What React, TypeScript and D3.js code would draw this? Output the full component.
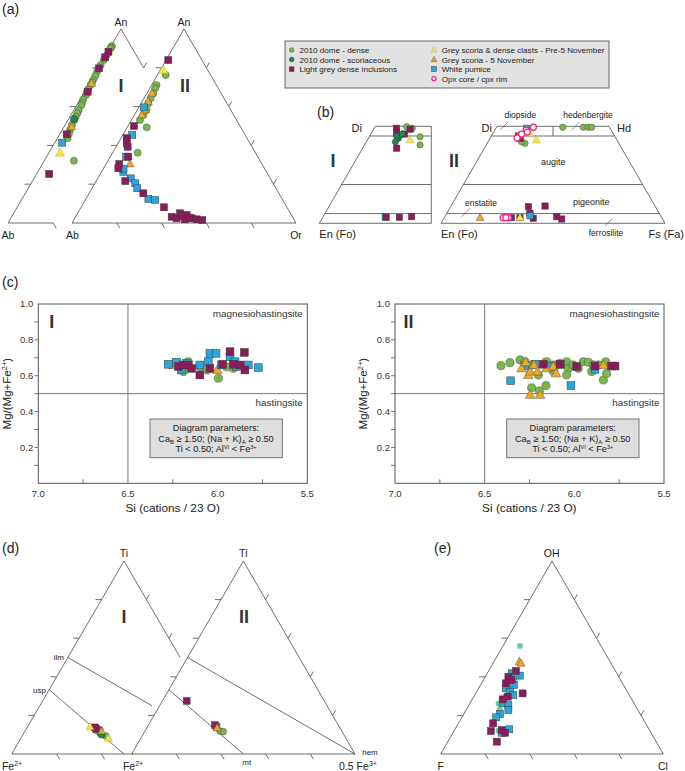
import React from 'react';
import * as d3 from 'd3';

const FONT = "'Liberation Sans', Arial, Helvetica, sans-serif";

// ---------- (a) feldspar, [An, Or] fractions ----------
const aI_dense = [[.912,.004],[.905,.003],[.9,.003],[.866,.005],[.852,.004],[.84,.004],[.814,.003],[.795,.004],[.78,.004],[.758,.007],[.737,.008],[.725,.01],[.711,.01],[.689,.01],[.675,.012],[.66,.015],[.637,.014],[.62,.018],[.608,.02],[.582,.022],[.565,.024],[.548,.026],[.53,.028],[.505,.03],[.479,.035],[.46,.04],[.437,.045],[.321,.131]];
const aI_scor = [[.536,.024]];
const aI_pre5 = [[.362,.049]];
const aI_nov5 = [[.72,.01],[.496,.034]];
const aI_pumice = [[.414,.033]];
const aI_incl = [[.883,.003],[.854,.003],[.797,.004],[.677,.014],[.457,.031],[.253,.056]];

const aII_dense = [[.763,.037],[.711,.022],[.694,.024],[.669,.029],[.643,.03],[.617,.032],[.582,.042],[.557,.04],[.531,.038],[.493,.087],[.362,.112]];
const aII_pre5 = [[.789,.013]];
const aII_nov5 = [[.669,.022],[.625,.028],[.582,.035],[.557,.033],[.304,.107]];
const aII_pumice = [[.596,.023],[.454,.042],[.342,.07],[.264,.097],[.23,.147],[.205,.179],[.179,.202],[.124,.279],[.119,.312],[.28,.09]];
const aII_incl = [[.84,.01],[.5,.027],[.437,.026],[.41,.04],[.393,.052],[.342,.08],[.304,.059],[.282,.066],[.216,.13],[.153,.242],[.081,.37],[.032,.429],[.05,.457],[.041,.491],[.024,.522],[.019,.547],[.015,.574],[.019,.494],[.024,.455],[.035,.475],[.028,.51]];

// ---------- (b) pyroxene, [Wo, Fs] fractions ----------
const bI_incl = [[.49,.10],[.485,.163],[.387,.152],[.47,.11],[.46,.15],[.031,.283],[.031,.342],[.034,.395]];
const bI_dense = [[.498,.141],[.446,.227],[.404,.248],[.49,.17]];
const bI_scor = [[.438,.134],[.45,.12],[.42,.13],[.46,.14]];
const bI_pre5 = [[.43,.19]];
const bI_pumice = [[.033,.278]];

const bII_dense = [[.412,.169],[.42,.15],[.495,.296],[.495,.388],[.495,.41],[.495,.425]];
const bII_incl = [[.438,.134],[.45,.12],[.029,.30],[.029,.338],[.086,.347],[.052,.371],[.026,.399],[.089,.42],[.034,.50],[.022,.528]];
const bII_pumice = [[.49,.138],[.039,.378]];
const bII_pre5 = [[.464,.165],[.429,.212],[.029,.338]];
const bII_nov5 = [[.029,.16]];
const bII_opx = [[.455,.126],[.495,.165],[.48,.14],[.44,.12],[.46,.13],[.47,.15],[.029,.263],[.029,.286],[.029,.275]];

// ---------- (c) amphibole, [Si, Mg#] ----------
const cL_pumice = [[6.275,.664],[6.229,.675],[6.173,.669],[6.201,.632],[6.099,.66],[6.043,.725],[6.009,.725],[6.052,.678],[5.978,.66],[5.931,.706],[5.903,.678],[5.894,.651],[5.829,.66],[5.773,.645]];
const cL_incl = [[6.219,.651],[6.164,.66],[6.145,.641],[6.099,.604],[6.043,.641],[5.972,.664],[5.931,.734],[5.913,.664],[5.875,.66],[5.851,.73],[5.848,.632],[6.191,.66]];
const cL_dense = [[6.191,.623],[6.099,.651],[5.996,.586],[6.06,.632],[5.913,.641],[6.164,.678],[5.95,.65]];
const cL_nov5 = [[6.251,.66],[6.002,.632]];

const cR_dense = [[6.409,.656],[6.359,.673],[6.303,.688],[6.275,.678],[6.238,.66],[6.238,.533],[6.195,.515],[6.158,.545],[6.201,.604],[6.154,.678],[6.117,.66],[6.08,.669],[6.043,.678],[6.033,.641],[6.006,.66],[5.978,.641],[5.95,.678],[5.922,.675],[5.894,.66],[5.866,.66],[5.838,.576],[5.825,.678],[5.82,.613],[6.043,.604],[6.117,.623],[5.903,.623]];
const cR_nov5 = [[6.294,.641],[6.271,.675],[6.257,.604],[6.247,.623],[6.225,.66],[6.206,.623],[6.173,.669],[6.154,.641],[6.117,.651],[6.102,.613],[6.247,.493],[6.191,.493],[5.838,.66]];
const cR_pumice = [[6.355,.572],[6.275,.656],[6.219,.664],[6.078,.664],[6.019,.545],[5.885,.636],[6.136,.651]];
const cR_incl = [[6.173,.664],[6.08,.664],[5.987,.651],[5.885,.654],[5.792,.654],[5.773,.654]];

const cXTicks = [7.0, 6.5, 6.0, 5.5];
const cXMinor = [6.75, 6.25, 5.75];
const cYTicks = [0.2, 0.4, 0.6, 0.8, 1.0];
const cYMinor = [0.1, 0.2, 0.3, 0.4, 0.5, 0.6, 0.7, 0.8, 0.9];

// ---------- (d) Fe-Ti oxides, [Ti, Fe3+] ----------
const dI_incl = [[.138,.302],[.13,.31]];
const dI_dense = [[.109,.339],[.093,.373],[.12,.32]];
const dI_scor = [[.1,.35],[.125,.33]];
const dI_pre5 = [[.141,.278],[.081,.39]];
const dI_nov5 = [[.119,.341]];
const dII_dense = [[.119,.336],[.116,.352]];
const dII_pumice = [[.14,.31]];
const dII_incl = [[.275,.109],[.15,.298]];
const dII_nov5 = [[.135,.315]];

// ---------- (e) apatite, [OH, Cl] ----------
const e_light = [[.56,.076],[.3,.14],[.26,.13],[.23,.15],[.12,.2],[.33,.15],[.38,.14]];
const e_nov5 = [[.478,.114],[.47,.126]];
const e_pumice = [[.406,.153],[.418,.11],[.358,.15],[.34,.122],[.323,.15],[.306,.173],[.263,.147],[.254,.177],[.228,.19],[.207,.163],[.19,.154],[.128,.244],[.11,.219]];
const e_incl = [[.43,.123],[.4,.104],[.383,.127],[.366,.11],[.314,.211],[.297,.153],[.283,.137],[.159,.156],[.119,.166],[.124,.212],[.11,.234],[.064,.22]];

const legendLeft = [
  ['dense', '2010 dome - dense'],
  ['scor', '2010 dome - scoriaceous'],
  ['incl', 'Light grey dense inclusions'],
];
const legendRight = [
  ['pre5', 'Grey scoria & dense clasts - Pre-5 November'],
  ['nov5', 'Grey scoria - 5 November'],
  ['pumice', 'White pumice'],
  ['opx', 'Opx core / cpx rim'],
];

const STY: any = {
  dense: { shape: 'circle', fill: '#7ab84b', stroke: '#4a4a4a', sw: 0.5 },
  scor: { shape: 'circle', fill: '#1c8a4b', stroke: '#2a2a2a', sw: 0.5 },
  incl: { shape: 'square', fill: '#8c1b5c', stroke: '#3a3a3a', sw: 0.5 },
  pre5: { shape: 'tri', fill: '#f4e83a', stroke: '#9a9a60', sw: 0.4 },
  nov5: { shape: 'tri', fill: '#f5a81e', stroke: '#555', sw: 0.5 },
  pumice: { shape: 'square', fill: '#2ba6dd', stroke: '#3a3a3a', sw: 0.5 },
  opx: { shape: 'circle', fill: '#ffffff', stroke: '#ec2a84', sw: 1.3 },
  light: { shape: 'circle', fill: '#6fcb9b', stroke: 'none', sw: 0 },
};

function Mk({ t, x, y, s }: any) {
  const st = STY[t];
  if (st.shape === 'circle')
    return <circle cx={x} cy={y} r={s / 2} fill={st.fill} stroke={st.stroke} strokeWidth={st.sw} />;
  if (st.shape === 'square')
    return <rect x={x - s / 2} y={y - s / 2} width={s} height={s} fill={st.fill} stroke={st.stroke} strokeWidth={st.sw} />;
  const h = s * 1.05;
  return (
    <path
      d={`M${x},${y - h * 0.6}L${x + s * 0.58},${y + h * 0.4}L${x - s * 0.58},${y + h * 0.4}Z`}
      fill={st.fill}
      stroke={st.stroke}
      strokeWidth={st.sw}
    />
  );
}

function Series({ data, t, proj, s }: any) {
  return (
    <g>
      {data.map((d: number[], i: number) => {
        const [x, y] = proj(d[0], d[1]);
        return <Mk key={i} t={t} x={x} y={y} s={s} />;
      })}
    </g>
  );
}

// ternary projection: top fraction, right-vertex fraction
function tern(apex: number[], left: number[], right: number[]) {
  const sx = d3.scaleLinear().domain([0, 1]).range([left[0], right[0]]);
  const sy = d3.scaleLinear().domain([0, 1]).range([left[1], apex[1]]);
  return (top: number, r: number) => [sx(r + top / 2), sy(top)];
}

const LINE = '#4a4a4a';
const TICK = 6;

function Seg({ a, b, w = 0.8, c = LINE }: any) {
  return <line x1={a[0]} y1={a[1]} x2={b[0]} y2={b[1]} stroke={c} strokeWidth={w} />;
}

function Ticks({ T, left = [], right = [], base = [] }: any) {
  const out: any[] = [];
  left.forEach((t: number, i: number) => {
    const p = T(t, 0);
    out.push(<Seg key={'l' + i} a={p} b={[p[0] - TICK, p[1]]} />);
  });
  right.forEach((t: number, i: number) => {
    const p = T(t, 1 - t);
    out.push(<Seg key={'r' + i} a={p} b={[p[0] + TICK * 0.5, p[1] - TICK * 0.866]} />);
  });
  base.forEach((r: number, i: number) => {
    const p = T(0, r);
    out.push(<Seg key={'b' + i} a={p} b={[p[0] + TICK * 0.5, p[1] + TICK * 0.866]} />);
  });
  return <g>{out}</g>;
}

const F4 = [0.2, 0.4, 0.6, 0.8];

function Txt({ x, y, s = 10, a = 'middle', w = 'normal', children, fill = '#222' }: any) {
  return (
    <text x={x} y={y} fontSize={s} textAnchor={a} fontWeight={w} fontFamily={FONT} fill={fill}>
      {children}
    </text>
  );
}

function PanelA() {
  const TI = tern([121, 29], [8, 223], [234, 223]);
  const TII = tern([184, 29], [72, 223], [296, 223]);
  const pI = (an: number, or: number) => TI(an, or);
  const pII = (an: number, or: number) => TII(an, or);
  const S = 7;
  return (
    <g>
      <Txt x={2} y={14} s={14} a="start">(a)</Txt>
      <Seg a={TI(1, 0)} b={TI(0, 0)} />
      <Seg a={TI(1, 0)} b={TI(0.8, 0.2)} />
      <Seg a={TI(0, 0)} b={TI(0, 0.2)} />
      <Ticks T={TI} left={F4} right={[0.8]} base={[0.2]} />
      <Seg a={TII(1, 0)} b={TII(0, 0)} />
      <Seg a={TII(1, 0)} b={TII(0, 1)} />
      <Seg a={TII(0, 0)} b={TII(0, 1)} />
      <Ticks T={TII} left={F4} right={F4} base={F4} />
      <Txt x={121} y={26} s={10.5}>An</Txt>
      <Txt x={184} y={26} s={10.5}>An</Txt>
      <Txt x={8} y={239} s={10.5}>Ab</Txt>
      <Txt x={72.5} y={239} s={10.5}>Ab</Txt>
      <Txt x={296} y={239} s={10.5}>Or</Txt>
      <Txt x={121} y={92} s={18} w="bold" fill="#333">I</Txt>
      <Txt x={185} y={92} s={18} w="bold" fill="#333">II</Txt>
      <Series data={aI_dense} t="dense" proj={pI} s={S} />
      <Series data={aI_scor} t="scor" proj={pI} s={S} />
      <Series data={aI_pre5} t="pre5" proj={pI} s={S + 1} />
      <Series data={aI_nov5} t="nov5" proj={pI} s={S} />
      <Series data={aI_pumice} t="pumice" proj={pI} s={S} />
      <Series data={aI_incl} t="incl" proj={pI} s={S} />
      <Series data={aII_dense} t="dense" proj={pII} s={S} />
      <Series data={aII_pre5} t="pre5" proj={pII} s={S + 1} />
      <Series data={aII_nov5} t="nov5" proj={pII} s={S} />
      <Series data={aII_pumice} t="pumice" proj={pII} s={S} />
      <Series data={aII_incl} t="incl" proj={pII} s={S} />
    </g>
  );
}

function Legend() {
  const x0 = 285, y0 = 41, w = 324, h = 47;
  const rowY = d3.scaleLinear().domain([0, 3]).range([50, 78.7]);
  return (
    <g>
      <rect x={x0} y={y0} width={w} height={h} fill="#e2e2e2" stroke="#666" strokeWidth={1} />
      {legendLeft.map(([t, l], i) => (
        <g key={'L' + i}>
          <Mk t={t} x={291.7} y={rowY(i)} s={4.6} />
          <Txt x={299.5} y={rowY(i) + 3} s={8.1} a="start">{l}</Txt>
        </g>
      ))}
      {legendRight.map(([t, l], i) => (
        <g key={'R' + i}>
          <Mk t={t} x={434} y={rowY(i)} s={t === 'opx' ? 4.2 : 4.8} />
          <Txt x={441.7} y={rowY(i) + 3} s={8.1} a="start">{l}</Txt>
        </g>
      ))}
    </g>
  );
}

function PanelB() {
  const TI = tern([431.3, 29.3], [319.3, 223.3], [543.3, 223.3]);
  const TII = tern([553, 29.3], [441, 223.3], [665, 223.3]);
  const S = 6.3;
  const poly = (pts: number[][]) => pts.map((p) => p.join(',')).join(' ');
  const lines = [0.45, 0.2, 0.05];
  return (
    <g>
      <Txt x={317} y={117} s={14} a="start">(b)</Txt>
      <polygon points={poly([TI(0, 0), TI(0, 0.5), TI(0.5, 0.25), TI(0.5, 0)])} fill="none" stroke={LINE} strokeWidth={0.8} />
      {lines.map((w, i) => (
        <Seg key={i} a={TI(w, 0)} b={TI(w, 0.5 - w / 2)} />
      ))}
      <polygon points={poly([TII(0, 0), TII(0, 1), TII(0.5, 0.5), TII(0.5, 0)])} fill="none" stroke={LINE} strokeWidth={0.8} />
      {lines.map((w, i) => (
        <Seg key={i} a={TII(w, 0)} b={TII(w, 1 - w)} />
      ))}
      <Seg a={TII(0.5, 0.25)} b={TII(0.45, 0.275)} />
      {/* leaders */}
      <Seg a={TII(0.522, 0.038)} b={TII(0.481, 0.023)} w={0.6} />
      <Seg a={TII(0.52, 0.357)} b={TII(0.481, 0.343)} w={0.6} />
      <Seg a={TII(0.077, 0.09)} b={TII(0.034, 0.075)} w={0.6} />
      <Seg a={TII(0.02, 0.752)} b={TII(-0.014, 0.738)} w={0.6} />
      <Txt x={362} y={131.5} s={11} a="end">Di</Txt>
      <Txt x={492} y={131.5} s={11} a="end">Di</Txt>
      <Txt x={617} y={131.5} s={11} a="start">Hd</Txt>
      <Txt x={319.3} y={237.5} s={11} a="start">En (Fo)</Txt>
      <Txt x={441} y={237.5} s={11} a="start">En (Fo)</Txt>
      <Txt x={684} y={237.5} s={11} a="end">Fs (Fa)</Txt>
      <Txt x={333} y={167} s={18} w="bold" fill="#333">I</Txt>
      <Txt x={454} y={167} s={18} w="bold" fill="#333">II</Txt>
      <Txt x={520.3} y={118} s={8.5}>diopside</Txt>
      <Txt x={588} y={118} s={8.5}>hedenbergite</Txt>
      <Txt x={553.3} y={164.5} s={9}>augite</Txt>
      <Txt x={591.3} y={204.5} s={9}>pigeonite</Txt>
      <Txt x={481} y={205.5} s={8.5}>enstatite</Txt>
      <Txt x={606} y={236} s={8.5}>ferrosilite</Txt>
      <Series data={bI_dense} t="dense" proj={TI} s={S} />
      <Series data={bI_pumice} t="pumice" proj={TI} s={S} />
      <Series data={bI_incl} t="incl" proj={TI} s={S} />
      <Series data={bI_scor} t="scor" proj={TI} s={S} />
      <Series data={bI_pre5} t="pre5" proj={TI} s={S + 0.5} />
      <Series data={bII_dense} t="dense" proj={TII} s={S} />
      <Series data={bII_incl} t="incl" proj={TII} s={S} />
      <Series data={bII_pumice} t="pumice" proj={TII} s={S} />
      <Series data={bII_pre5} t="pre5" proj={TII} s={S + 0.5} />
      <Series data={bII_nov5} t="nov5" proj={TII} s={S + 0.5} />
      <Series data={bII_opx} t="opx" proj={TII} s={6} />
    </g>
  );
}

function AmphPlot({ x0, x1, label, series }: any) {
  const x = d3.scaleLinear().domain([7.0, 5.5]).range([x0, x1]);
  const y = d3.scaleLinear().domain([0, 1]).range([483.3, 304]);
  const proj = (a: number, b: number) => [x(a), y(b)];
  const bx = x0 + 111.7;
  return (
    <g>
      <rect x={x0} y={y(1)} width={x1 - x0} height={y(0) - y(1)} fill="none" stroke="#555" strokeWidth={1} />
      <Seg a={[x(6.5), y(0)]} b={[x(6.5), y(1)]} c="#777" w={1} />
      <Seg a={[x0, y(0.5)]} b={[x1, y(0.5)]} c="#777" w={1} />
      {cYMinor.map((v, i) => (
        <Seg key={'ym' + i} a={[x0 - 4, y(v)]} b={[x0, y(v)]} c="#555" />
      ))}
      {cYTicks.map((v, i) => (
        <Txt key={'yt' + i} x={x0 - 5} y={y(v) + 3.3} s={9.5} a="end" fill="#333">{v.toFixed(1)}</Txt>
      ))}
      {cXMinor.map((v, i) => (
        <Seg key={'xm' + i} a={[x(v), y(0)]} b={[x(v), y(0) - 4]} c="#555" />
      ))}
      {cXTicks.map((v, i) => (
        <Txt key={'xt' + i} x={x(v)} y={496.5} s={9.5} fill="#333">{v.toFixed(1)}</Txt>
      ))}
      <text x={x0 - 27.5} y={y(0.5)} fontSize={11.5} fontFamily={FONT} textAnchor="middle" fill="#222"
        transform={`rotate(-90 ${x0 - 27.5} ${y(0.5)})`}>
        Mg/(Mg+Fe<tspan dy={-4} fontSize={7.5}>2+</tspan><tspan dy={4}>)</tspan>
      </text>
      <Txt x={x(6.0) - 45} y={512} s={11.8}>Si (cations / 23 O)</Txt>
      <Txt x={x0 + 13.4} y={327.5} s={18} w="bold" fill="#333">{label}</Txt>
      <Txt x={x1 - 4.5} y={316.5} s={9.9} a="end" fill="#333">magnesiohastingsite</Txt>
      <Txt x={x1 - 4.5} y={405.5} s={9.9} a="end" fill="#333">hastingsite</Txt>
      <rect x={bx} y={419} width={132.3} height={38.7} fill="#dedede" stroke="#666" strokeWidth={0.9} />
      <Txt x={bx + 66} y={431.4} s={9.2} fill="#222">Diagram parameters:</Txt>
      <text x={bx + 66} y={441.6} fontSize={9.2} fontFamily={FONT} textAnchor="middle" fill="#222">
        Ca<tspan dy={2} fontSize={6}>B</tspan><tspan dy={-2}> ≥ 1.50; (Na + K)</tspan>
        <tspan dy={2} fontSize={6}>A</tspan><tspan dy={-2}> ≥ 0.50</tspan>
      </text>
      <text x={bx + 66} y={452.4} fontSize={9.2} fontFamily={FONT} textAnchor="middle" fill="#222">
        Ti &lt; 0.50; Al<tspan dy={-3} fontSize={5.5}>VI</tspan><tspan dy={3}> &lt; Fe</tspan>
        <tspan dy={-3} fontSize={5.5}>3+</tspan>
      </text>
      {series.map((s: any, i: number) => (
        <Series key={i} data={s[0]} t={s[1]} proj={proj} s={s[1] === 'incl' || s[1] === 'pumice' ? 7.8 : 8.2} />
      ))}
    </g>
  );
}

function PanelC() {
  return (
    <g>
      <Txt x={2} y={287} s={14} a="start">(c)</Txt>
      <AmphPlot x0={38.3} x1={307.3} label="I"
        series={[[cL_nov5, 'nov5'], [cL_dense, 'dense'], [cL_pumice, 'pumice'], [cL_incl, 'incl']]} />
      <AmphPlot x0={395} x1={664} label="II"
        series={[[cR_dense, 'dense'], [cR_pumice, 'pumice'], [cR_nov5, 'nov5'], [cR_incl, 'incl']]} />
    </g>
  );
}

function PanelD() {
  const TI = tern([124, 561], [11.7, 754], [236.3, 754]);
  const TII = tern([243.3, 561], [131.7, 754], [355, 754]);
  const S = 6.8;
  const lerp = (a: number[], b: number[], f: number) => [a[0] + (b[0] - a[0]) * f, a[1] + (b[1] - a[1]) * f];
  return (
    <g>
      <Txt x={2} y={553} s={14} a="start">(d)</Txt>
      <Seg a={TI(1, 0)} b={TI(0, 0)} />
      <Seg a={TI(1, 0)} b={TI(0.5, 0.5)} />
      <Seg a={TI(0, 0)} b={TI(0, 0.54)} />
      <Seg a={TI(0.5, 0)} b={lerp(TI(0.5, 0), TI(0, 1), 0.5)} />
      <Seg a={TI(1 / 3, 0)} b={TI(0, 0.5)} />
      <Ticks T={TI} left={F4} right={[0.8, 0.6]} base={[0.2, 0.4]} />
      <Seg a={TII(1, 0)} b={TII(0, 0)} />
      <Seg a={TII(1, 0)} b={TII(0, 1)} />
      <Seg a={TII(0, 0)} b={TII(0, 1)} />
      <Seg a={TII(0.5, 0)} b={TII(0, 1)} />
      <Seg a={TII(1 / 3, 0)} b={TII(0, 0.5)} />
      <Ticks T={TII} left={F4} right={F4} base={F4} />
      <Txt x={124} y={557} s={10.5}>Ti</Txt>
      <Txt x={243.3} y={557} s={10.5}>Ti</Txt>
      <Txt x={124} y={623} s={18} w="bold" fill="#333">I</Txt>
      <Txt x={244} y={623} s={18} w="bold" fill="#333">II</Txt>
      <Txt x={64} y={659.5} s={8} a="end">ilm</Txt>
      <Txt x={46} y={693} s={8} a="end">usp</Txt>
      <Txt x={246.7} y={765} s={8}>mt</Txt>
      <Txt x={370} y={755} s={8}>hem</Txt>
      <text x={12} y={769.5} fontSize={10.5} fontFamily={FONT} textAnchor="middle" fill="#222">
        Fe<tspan dy={-4} fontSize={7}>2+</tspan>
      </text>
      <text x={133} y={769.5} fontSize={10.5} fontFamily={FONT} textAnchor="middle" fill="#222">
        Fe<tspan dy={-4} fontSize={7}>2+</tspan>
      </text>
      <text x={358} y={769.5} fontSize={10.5} fontFamily={FONT} textAnchor="middle" fill="#222">
        0.5 Fe<tspan dy={-4} fontSize={7}>3+</tspan>
      </text>
      <Series data={dI_dense} t="dense" proj={TI} s={S} />
      <Series data={dI_scor} t="scor" proj={TI} s={S} />
      <Series data={dI_incl} t="incl" proj={TI} s={S} />
      <Series data={dI_pre5} t="pre5" proj={TI} s={S} />
      <Series data={dI_nov5} t="nov5" proj={TI} s={S} />
      <Series data={dII_dense} t="dense" proj={TII} s={S} />
      <Series data={dII_pumice} t="pumice" proj={TII} s={S} />
      <Series data={dII_incl} t="incl" proj={TII} s={S} />
      <Series data={dII_nov5} t="nov5" proj={TII} s={S} />
    </g>
  );
}

function PanelE() {
  const T = tern([551.7, 561], [440.7, 754], [663.3, 754]);
  const S = 7;
  return (
    <g>
      <Txt x={434} y={553} s={14} a="start">(e)</Txt>
      <Seg a={T(1, 0)} b={T(0, 0)} />
      <Seg a={T(1, 0)} b={T(0, 1)} />
      <Seg a={T(0, 0)} b={T(0, 1)} />
      <Ticks T={T} left={F4} right={F4} base={F4} />
      <Txt x={551.7} y={557} s={10.5}>OH</Txt>
      <Txt x={440.7} y={770} s={10.5}>F</Txt>
      <Txt x={663} y={770} s={10.5}>Cl</Txt>
      <Series data={e_light} t="light" proj={T} s={6} />
      <Series data={e_nov5} t="nov5" proj={T} s={S} />
      <Series data={e_pumice} t="pumice" proj={T} s={S} />
      <Series data={e_incl} t="incl" proj={T} s={S} />
    </g>
  );
}

export default function App() {
  return (
    <svg width={685} height={771} viewBox="0 0 685 771"
      style={{ position: 'absolute', left: 0, top: 0, background: '#fff' }}>
      <rect x={0} y={0} width={685} height={771} fill="#fff" />
      <PanelA />
      <Legend />
      <PanelB />
      <PanelC />
      <PanelD />
      <PanelE />
    </svg>
  );
}
